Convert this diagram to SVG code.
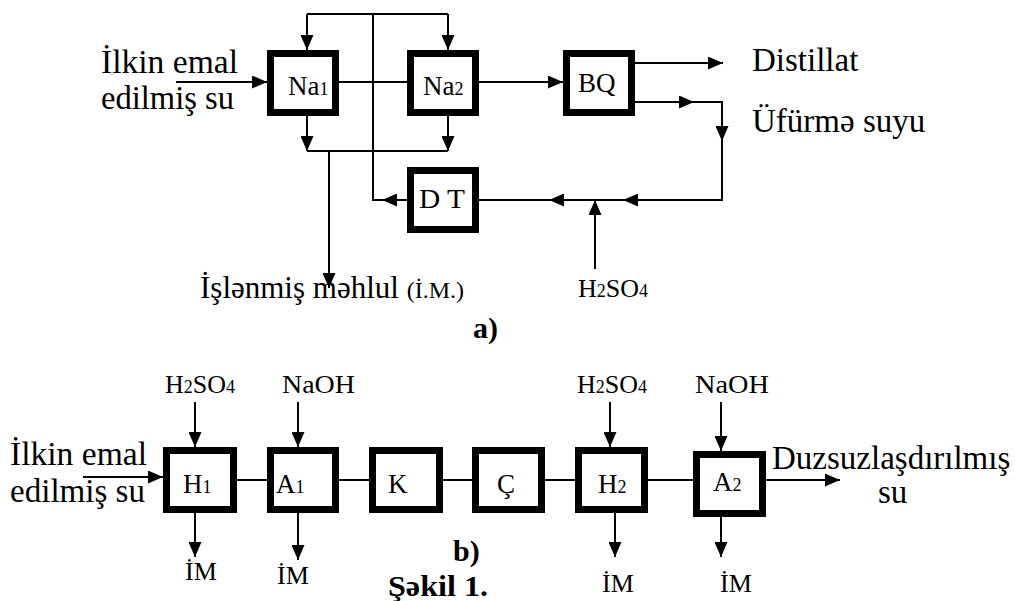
<svg xmlns="http://www.w3.org/2000/svg" width="1015" height="601" viewBox="0 0 1015 601" font-family="Liberation Serif">
<defs>
<marker id="ah" markerUnits="userSpaceOnUse" markerWidth="15" markerHeight="13" refX="15" refY="6.5" orient="auto">
<path d="M0,0 L15,6.5 L0,13 z" fill="#000"/>
</marker>
<style>
.box{fill:#fff;stroke:#000;stroke-width:7}
.ln{fill:none;stroke:#000;stroke-width:2}
.ar{fill:none;stroke:#000;stroke-width:2;marker-end:url(#ah)}
text{fill:#000}
.lb{font-size:33px}
.bx{font-size:27px}
.sm{font-size:18px}
.ch{font-size:26px}
.bd{font-size:30px;font-weight:bold}
</style>
</defs>
<rect width="1015" height="601" fill="#fff"/>

<g id="connectors">
<path class="ar" d="M176,82 L267,82"/>
<path class="ln" d="M339,82 L407,82"/>
<path class="ar" d="M479,82 L563,82"/>
<path class="ln" d="M307,14 L448,14"/>
<path class="ar" d="M307,14 L307,50"/>
<path class="ar" d="M448,14 L448,50"/>
<path class="ln" d="M373,14 L373,200 L383,200"/>
<path class="ar" d="M407,200 L382,200"/>
<path class="ar" d="M307,116 L307,151"/>
<path class="ar" d="M448,116 L448,151"/>
<path class="ln" d="M307,151 L448,151"/>
<path class="ar" d="M329,151 L329,288"/>
<path class="ar" d="M635,63 L723,63"/>
<path class="ar" d="M635,102 L694,102"/>
<path class="ln" d="M693,102 L722,102 L722,126"/>
<path class="ar" d="M722,102 L722,141"/>
<path class="ln" d="M722,140 L722,200 L623,200"/>
<path class="ar" d="M722,200 L623,200"/>
<path class="ar" d="M623,200 L549,200"/>
<path class="ln" d="M549,200 L479,200"/>
<path class="ar" d="M595,269 L595,200"/>
<path class="ar" d="M83,477 L163,477"/>
<path class="ln" d="M237,480 L267,480 M339,480 L369,480 M443,480 L472,480 M545,480 L575,480 M648,480 L693,480"/>
<path class="ar" d="M755,480 L840,480"/>
<path class="ar" d="M195,402 L195,447"/>
<path class="ar" d="M298,402 L298,447"/>
<path class="ar" d="M610,402 L610,447"/>
<path class="ar" d="M721,402 L721,451"/>
<path class="ar" d="M195,513 L195,557"/>
<path class="ar" d="M298,513 L298,560"/>
<path class="ar" d="M615,513 L615,557"/>
<path class="ar" d="M721,517 L721,557"/>
</g>

<g id="node-na1">
<rect class="box" x="270.5" y="53.5" width="65" height="59"/>
<text class="bx" x="288" y="95">Na<tspan class="sm">1</tspan></text>
</g>
<g id="node-na2">
<rect class="box" x="410.5" y="53.5" width="65" height="59"/>
<text class="bx" x="423" y="95">Na<tspan class="sm">2</tspan></text>
</g>
<g id="node-bq">
<rect class="box" x="566.5" y="53.5" width="65" height="59"/>
<text class="bx" x="578" y="92">BQ</text>
</g>
<g id="node-dt">
<rect class="box" x="410.5" y="170.5" width="65" height="59"/>
<text class="bx" x="419" y="208" textLength="46" lengthAdjust="spacingAndGlyphs">D T</text>
</g>

<g id="node-h1">
<rect class="box" x="166.5" y="450.5" width="67" height="59"/>
<text class="bx" x="183" y="493">H<tspan class="sm">1</tspan></text>
</g>
<g id="node-a1">
<rect class="box" x="270.5" y="450.5" width="65" height="59"/>
<text class="bx" x="276" y="493">A<tspan class="sm">1</tspan></text>
</g>
<g id="node-k">
<rect class="box" x="372.5" y="450.5" width="67" height="59"/>
<text class="bx" x="388" y="493">K</text>
</g>
<g id="node-c">
<rect class="box" x="475.5" y="450.5" width="66" height="59"/>
<text class="bx" x="497" y="493">Ç</text>
</g>
<g id="node-h2">
<rect class="box" x="578.5" y="450.5" width="66" height="59"/>
<text class="bx" x="598" y="493">H<tspan class="sm">2</tspan></text>
</g>
<g id="node-a2">
<rect class="box" x="696.5" y="454.5" width="66" height="59"/>
<text class="bx" x="713" y="491">A<tspan class="sm">2</tspan></text>
</g>

<g id="labels">
<text class="lb" x="101" y="73" textLength="137" lengthAdjust="spacingAndGlyphs">İlkin emal</text>
<text class="lb" x="101" y="109" textLength="133" lengthAdjust="spacingAndGlyphs">edilmiş su</text>
<text class="lb" x="752" y="71">Distillat</text>
<text class="lb" x="752" y="132">Üfürmə suyu</text>
<text class="lb" x="200" y="298" style="font-size:31px">İşlənmiş məhlul <tspan style="font-size:24px">(İ.M.)</tspan></text>
<text class="ch" x="578" y="297">H<tspan class="sm">2</tspan>SO<tspan class="sm">4</tspan></text>
<text class="bd" x="473" y="338">a)</text>

<text class="ch" x="165" y="393">H<tspan class="sm">2</tspan>SO<tspan class="sm">4</tspan></text>
<text class="ch" x="282" y="393" textLength="73" lengthAdjust="spacingAndGlyphs">NaOH</text>
<text class="ch" x="577" y="393">H<tspan class="sm">2</tspan>SO<tspan class="sm">4</tspan></text>
<text class="ch" x="695" y="393" textLength="74" lengthAdjust="spacingAndGlyphs">NaOH</text>
<text class="lb" x="10" y="465" textLength="137" lengthAdjust="spacingAndGlyphs">İlkin emal</text>
<text class="lb" x="10" y="502" textLength="135" lengthAdjust="spacingAndGlyphs">edilmiş su</text>
<text class="lb" x="772" y="469">Duzsuzlaşdırılmış</text>
<text class="lb" x="878" y="503">su</text>
<text class="ch" x="185" y="580">İM</text>
<text class="ch" x="277" y="584">İM</text>
<text class="ch" x="602" y="592">İM</text>
<text class="ch" x="720" y="592">İM</text>
<text class="bd" x="453" y="561">b)</text>
<text class="bd" x="388" y="596" textLength="100" lengthAdjust="spacingAndGlyphs">Şəkil 1.</text>
</g>
</svg>
